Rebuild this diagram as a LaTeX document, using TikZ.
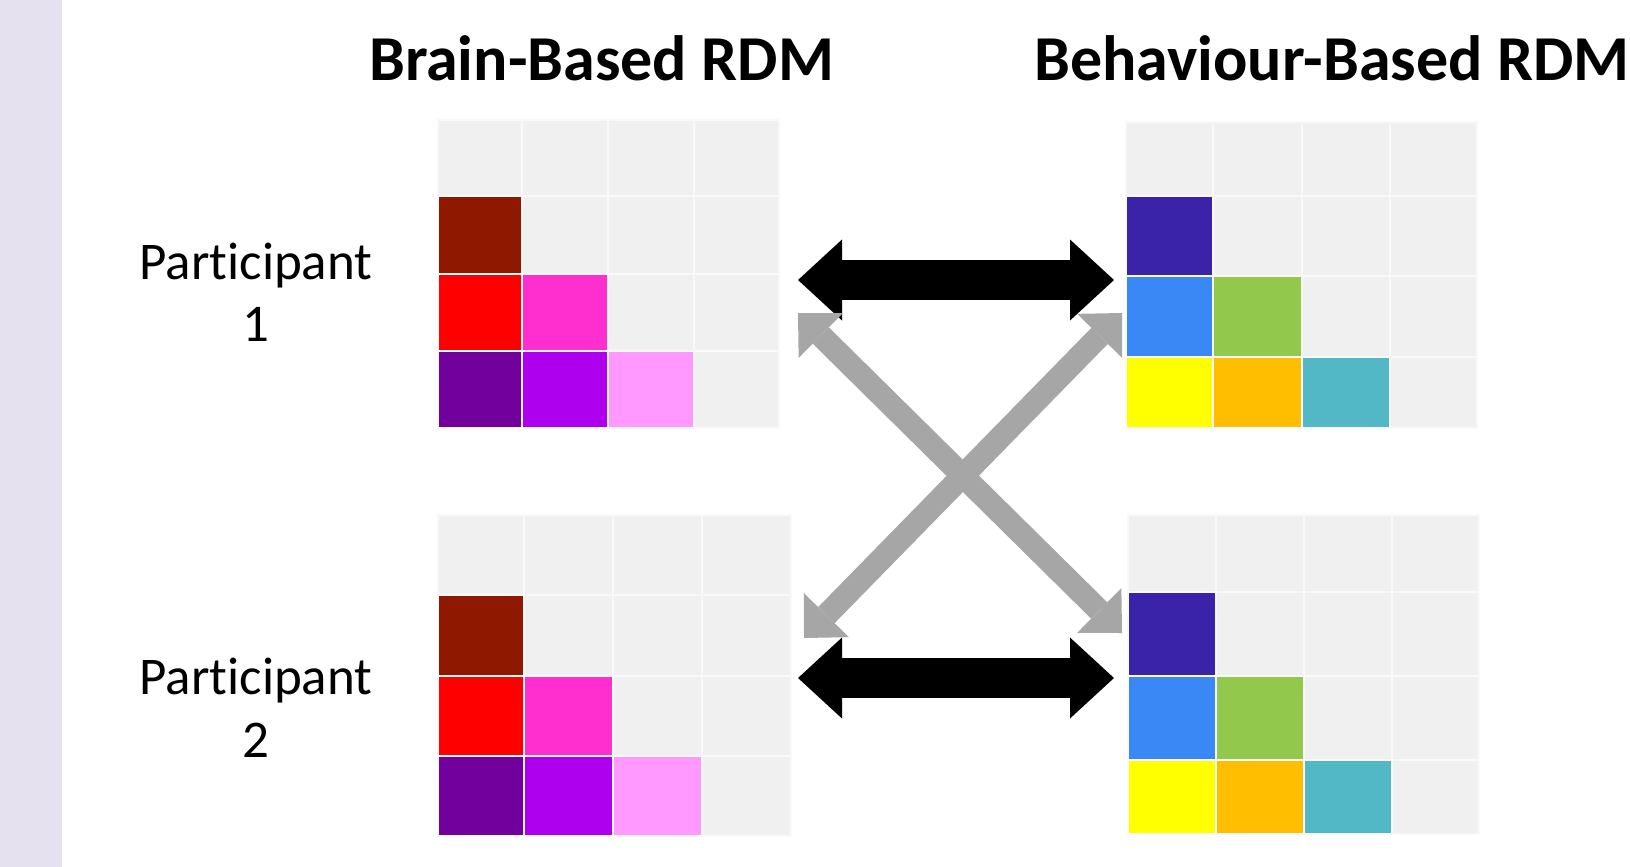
\documentclass[tikz,border=0pt]{standalone}
\usepackage{fontspec}
\setmainfont{Carlito}[RawFeature=-liga]
\usetikzlibrary{arrows.meta,fit}

\definecolor{strip}{HTML}{E6E1EE}
\definecolor{cellbg}{HTML}{F0F0F0}
% brain-based cells
\definecolor{brA}{HTML}{8E1800}
\definecolor{brB}{HTML}{FF0000}
\definecolor{brC}{HTML}{FF2ECF}
\definecolor{brD}{HTML}{71009D}
\definecolor{brE}{HTML}{AE00EF}
\definecolor{brF}{HTML}{FF99FF}
% behaviour-based cells
\definecolor{bhA}{HTML}{3B23A9}
\definecolor{bhB}{HTML}{3988F6}
\definecolor{bhC}{HTML}{92C94C}
\definecolor{bhD}{HTML}{FFFF00}
\definecolor{bhE}{HTML}{FFBF00}
\definecolor{bhF}{HTML}{53B8C6}
\definecolor{arrowgray}{HTML}{A6A6A6}

\tikzset{
  title/.style={font=\fontsize{64}{70}\selectfont\bfseries, inner sep=0pt},
  lbl/.style={font=\fontsize{53}{60}\selectfont, inner sep=0pt},
  cellline/.style={draw=white!60!cellbg, line width=1.2pt},
  gridbox/.style={inner sep=0pt, draw=none},
  blackarrow/.style={line width=40pt, draw=black,
    {Triangle[length=44pt,width=81pt,line width=0pt]}-{Triangle[length=44pt,width=81pt,line width=0pt]}},
  grayarrow/.style={line width=23pt, draw=arrowgray,
    {Triangle[length=32pt,width=63pt,line width=0pt]}-{Triangle[length=32pt,width=63pt,line width=0pt]}},
}

% #1 node name, #2 column edges, #3 row edges, #4 coloured cells col/row/colour
\newcommand{\rdmgrid}[4]{%
  \foreach \i in {0,...,3}{%
    \foreach \j in {0,...,3}{%
      \pgfmathsetmacro\xa{{#2}[\i]}%
      \pgfmathsetmacro\xb{{#2}[\i+1]}%
      \pgfmathsetmacro\ya{{#3}[\j]}%
      \pgfmathsetmacro\yb{{#3}[\j+1]}%
      \path[cellline, fill=cellbg] (\xa,\ya) rectangle (\xb,\yb);
    }%
  }%
  \foreach \i/\j/\c in {#4}{%
    \pgfmathsetmacro\xa{{#2}[\i]}%
    \pgfmathsetmacro\xb{{#2}[\i+1]}%
    \pgfmathsetmacro\ya{{#3}[\j]}%
    \pgfmathsetmacro\yb{{#3}[\j+1]}%
    \path[cellline, fill=\c] (\xa,\ya) rectangle (\xb,\yb);
  }%
  \pgfmathsetmacro\xa{{#2}[0]}%
  \pgfmathsetmacro\xb{{#2}[4]}%
  \pgfmathsetmacro\ya{{#3}[0]}%
  \pgfmathsetmacro\yb{{#3}[4]}%
  \node[gridbox, fit={(\xa,\ya) (\xb,\yb)}] (#1) {};
}

\begin{document}
\begin{tikzpicture}[x=1pt, y=-1pt]
  \useasboundingbox (0,0) rectangle (1630,867);
  \fill[white] (0,0) rectangle (1630,867);
  \fill[strip] (0,0) rectangle (62,867);

  % column headings
  \node[title, anchor=base] (brainhead) at (601.5,81) {Brain-Based RDM};
  \node[title, anchor=base] (behavhead) at (1332,81) {Behaviour-Based RDM};

  % row labels
  \node[lbl, anchor=base] (pone) at (256,279) {Participant};
  \node[lbl, anchor=base] (poneno) at (256,341) {1};
  \node[lbl, anchor=base] (ptwo) at (256,694) {Participant};
  \node[lbl, anchor=base] (ptwono) at (256,757) {2};

  % matrices
  \rdmgrid{brainone}{438,522,608,694,779}{120,196,274,351,428}
    {0/1/brA, 0/2/brB, 1/2/brC, 0/3/brD, 1/3/brE, 2/3/brF}
  \rdmgrid{behavone}{1126,1213,1302,1390,1477}{122,196,276,357,428}
    {0/1/bhA, 0/2/bhB, 1/2/bhC, 0/3/bhD, 1/3/bhE, 2/3/bhF}
  \rdmgrid{braintwo}{438,524,613,702,791}{515,595,676,756,836}
    {0/1/brA, 0/2/brB, 1/2/brC, 0/3/brD, 1/3/brE, 2/3/brF}
  \rdmgrid{behavtwo}{1128,1216,1304,1392,1479}{515,592,676,760,834}
    {0/1/bhA, 0/2/bhB, 1/2/bhC, 0/3/bhD, 1/3/bhE, 2/3/bhF}

  % arrow end points between the matrices
  \coordinate (topL) at (798,280);
  \coordinate (topR) at (1114,280);
  \coordinate (botL) at (798,678);
  \coordinate (botR) at (1114,678);
  \coordinate (crossA) at (798,313);
  \coordinate (crossB) at (1122,633);
  \coordinate (crossC) at (1122,313);
  \coordinate (crossD) at (804,638);

  \draw[blackarrow] (topL) -- (topR);
  \draw[blackarrow] (botL) -- (botR);
  \draw[grayarrow] (crossA) -- (crossB);
  \draw[grayarrow] (crossC) -- (crossD);
\end{tikzpicture}
\end{document}
